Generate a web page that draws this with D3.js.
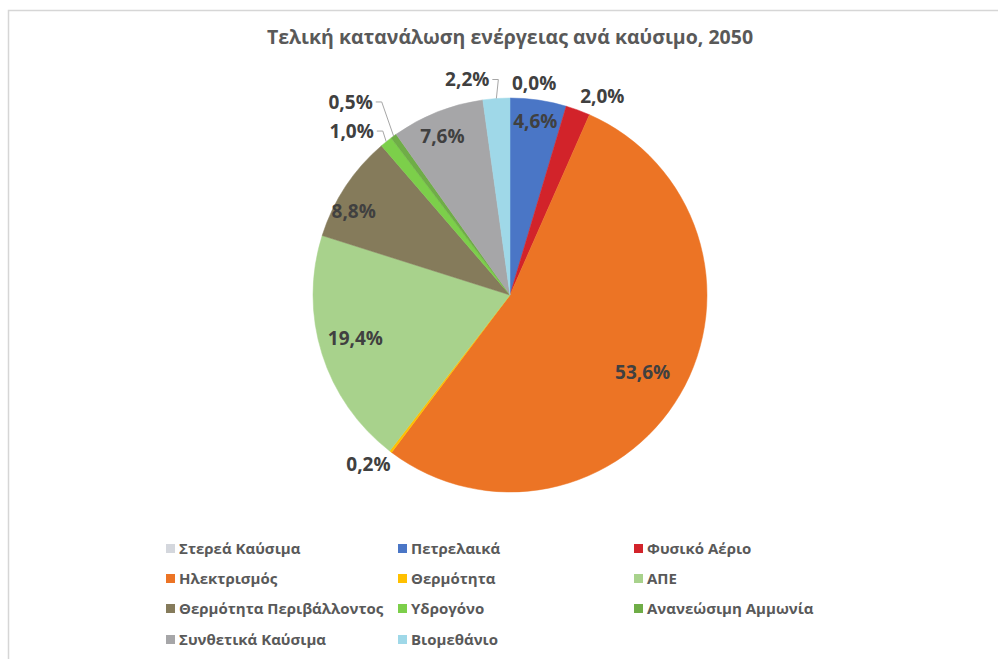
<!DOCTYPE html>
<html>
<head>
<meta charset="utf-8">
<script src="https://cdn.jsdelivr.net/npm/d3@7"></script>
<style>
  body { margin: 0; background: #fff; }
  text { font-family: "Open Sans", "Noto Sans", sans-serif; }
</style>
</head>
<body>
<script>
// data (per cent of final energy consumption, 2050)
var fuels = ["Στερεά Καύσιμα", "Πετρελαικά", "Φυσικό Αέριο", "Ηλεκτρισμός", "Θερμότητα", "ΑΠΕ",
             "Θερμότητα Περιβάλλοντος", "Υδρογόνο", "Ανανεώσιμη Αμμωνία", "Συνθετικά Καύσιμα", "Βιομεθάνιο"];
var shares = [0.0, 4.6, 2.0, 53.6, 0.2, 19.4, 8.8, 1.0, 0.5, 7.6, 2.2];
var title = "Τελική κατανάλωση ενέργειας ανά καύσιμο, 2050";

var colors = ["#d4d7dd", "#4a76c6", "#d2232a", "#ec7425", "#ffc000", "#a8d28c",
              "#857b5b", "#7ccf4a", "#6fad47", "#a6a6a8", "#9fd8e8"];

var W = 998, H = 659;
var cx = 510, cy = 295, R = 197;

var svg = d3.select("body").append("svg").attr("width", W).attr("height", H);

// frame
svg.append("rect")
   .attr("x", 8.5).attr("y", 10.5)
   .attr("width", W + 10).attr("height", H + 10)
   .attr("fill", "none").attr("stroke", "#d6d6d6").attr("stroke-width", 1.5);

svg.append("text")
   .attr("x", cx).attr("y", 44)
   .attr("text-anchor", "middle")
   .attr("font-size", 19.5).attr("font-weight", 700)
   .attr("fill", "#595959")
   .text(title);

var data = fuels.map(function(f, i) { return {name: f, value: shares[i], color: colors[i]}; });

var pie = d3.pie().sort(null).value(function(d) { return d.value; });
var arcs = pie(data);

var arc = d3.arc().innerRadius(0).outerRadius(R);
var g = svg.append("g").attr("transform", "translate(" + cx + "," + cy + ")");

g.selectAll("path.slice").data(arcs).enter().append("path")
  .attr("class", "slice")
  .attr("d", arc)
  .attr("fill", function(d) { return d.data.color; })
  .attr("stroke", function(d) { return d.data.color; })
  .attr("stroke-width", 0.5);

function fmt(v) { return v.toFixed(1).replace(".", ",") + "%"; }
function mid(d) { return (d.startAngle + d.endAngle) / 2; }
function polar(a, r) { return [Math.sin(a) * r, -Math.cos(a) * r]; }

// inside labels for the bigger slices (small per-label tweaks like Excel's best fit)
var inNudge = {
  "ΑΠΕ": [-8, -3],
  "Θερμότητα Περιβάλλοντος": [-10, 13],
  "Συνθετικά Καύσιμα": [-3, 4]
};
function inPos(d) {
  var p = polar(mid(d), d.data.value > 15 ? R * 0.78 : R * 0.89);
  var n = inNudge[d.data.name] || [0, 0];
  return [p[0] + n[0], p[1] + n[1]];
}
var inside = arcs.filter(function(d) { return d.data.value >= 3; });
g.selectAll("text.in").data(inside).enter().append("text")
  .attr("class", "in")
  .attr("x", function(d) { return inPos(d)[0]; })
  .attr("y", function(d) { return inPos(d)[1]; })
  .attr("dy", "0.35em")
  .attr("text-anchor", "middle")
  .attr("font-size", 19).attr("font-weight", 700)
  .attr("fill", "#404040")
  .text(function(d) { return fmt(d.data.value); });

// outside labels for the thin slices
var nudge = {
  "Στερεά Καύσιμα":     {r: 212, dx: 2,   dy: 0,   anchor: "start"},
  "Φυσικό Αέριο":       {r: 212, dx: -3,  dy: 0,   anchor: "start"},
  "Θερμότητα":          {r: 212, dx: 9,   dy: 1,   anchor: "end"},
  "Υδρογόνο":           {r: 212, dx: -3,  dy: 1,   anchor: "end", lead: true},
  "Ανανεώσιμη Αμμωνία": {r: 212, dx: -12, dy: -22, anchor: "end", lead: true},
  "Βιομεθάνιο":         {r: 212, dx: -6,  dy: -4,  anchor: "end", lead: true}
};
var outside = arcs.filter(function(d) { return d.data.value < 3; });
outside.forEach(function(d) {
  var n = nudge[d.data.name];
  var p = polar(mid(d), n.r);
  var lx = p[0] + n.dx, ly = p[1] + n.dy;
  g.append("text")
    .attr("x", lx).attr("y", ly)
    .attr("dy", "0.35em")
    .attr("text-anchor", n.anchor)
    .attr("font-size", 19).attr("font-weight", 700)
    .attr("fill", "#404040")
    .text(fmt(d.data.value));
  if (n.lead) {
    var e = polar(mid(d), R);
    var sx = lx + 3;
    var bend = sx + 6;
    g.append("polyline")
      .attr("points", [[sx, ly], [bend, ly], [e[0], e[1]]].map(function(q) { return q.join(","); }).join(" "))
      .attr("fill", "none").attr("stroke", "#a6a6a6").attr("stroke-width", 1);
  }
});

// legend, 3 columns
var colX = [166, 398, 634];
var rowY = [549, 579, 609, 640];
var lg = svg.append("g");
var items = lg.selectAll("g").data(data).enter().append("g")
  .attr("transform", function(d, i) { return "translate(" + colX[i % 3] + "," + rowY[Math.floor(i / 3)] + ")"; });
items.append("rect")
  .attr("x", 0).attr("y", -5).attr("width", 9).attr("height", 9)
  .attr("fill", function(d) { return d.color; });
items.append("text")
  .attr("x", 13).attr("y", 0).attr("dy", "0.35em")
  .attr("font-size", 15).attr("font-weight", 700)
  .attr("fill", "#595959")
  .text(function(d) { return d.name; });
</script>
</body>
</html>
